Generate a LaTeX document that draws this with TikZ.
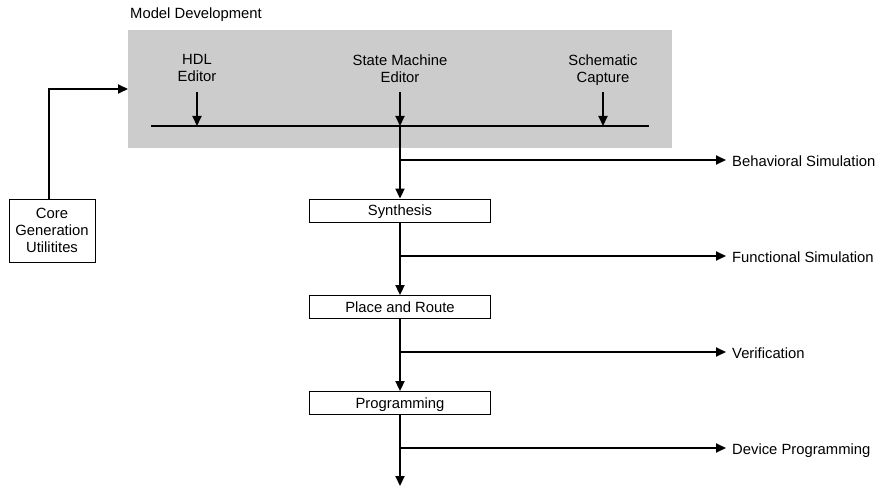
\documentclass[tikz,border=0pt]{standalone}
\usepackage{fontspec}
\setmainfont{Liberation Sans}
\usetikzlibrary{arrows.meta}
\definecolor{panelgray}{HTML}{CCCCCC}
\begin{document}
\begin{tikzpicture}[x=1pt,y=-1pt,
  every node/.style={font=\fontsize{14.8}{17}\selectfont},
  flow/.style={line width=2pt},
  arr/.style={flow,-{Triangle[length=10pt,width=9pt]}},
  stagebox/.style={draw,line width=0.9pt,fill=white,minimum width=181pt,minimum height=23pt,
    inner sep=0pt,text height=10.6pt,text depth=0pt},
  toolbox/.style={draw,line width=0.9pt,fill=white,minimum width=86pt,minimum height=63pt,inner sep=0pt,align=center},
  tool/.style={align=center,inner sep=0pt,anchor=north},
  outlabel/.style={anchor=base west,inner sep=0pt}]
\useasboundingbox (0,0) rectangle (879,487);

% model development panel
\node[anchor=base west,inner sep=0pt] (mdtitle) at (130,19) {Model Development};
\node[fill=panelgray,minimum width=544pt,minimum height=118pt,inner sep=0pt,anchor=north west] (md) at (128,30) {};

% editors feeding the common bus
\node[tool] (hdl) at (197,54.6) {HDL\\Editor};
\node[tool] (sme) at (400,54.6) {State Machine\\Editor};
\node[tool] (sch) at (603,54.6) {Schematic\\Capture};
\coordinate (busL) at (151,126);
\coordinate (busR) at (649,126);
\draw[flow] (busL) -- (busR);
\coordinate (hdlIn) at (197,126);
\coordinate (smeIn) at (400,126);
\coordinate (schIn) at (603,126);
\draw[arr] (hdl.south |- 0,92) -- (hdlIn);
\draw[arr] (sme.south |- 0,92) -- (smeIn);
\draw[arr] (sch.south |- 0,92) -- (schIn);

% core generation utilities
\node[toolbox] (core) at (52,230.5) {Core\\Generation\\Utilitites};
\coordinate (coreUp) at (49,89);
\draw[arr] (core.north -| coreUp) |- (md.west |- coreUp);

% implementation flow
\node[stagebox] (syn) at (400,210.5) {Synthesis};
\node[stagebox] (par) at (400,307) {Place and Route};
\node[stagebox] (prg) at (400,403) {Programming};
\coordinate (flowEnd) at (400,486);

\draw[arr] (smeIn) -- (syn.north);
\draw[arr] (syn.south) -- (par.north);
\draw[arr] (par.south) -- (prg.north);
\draw[arr] (prg.south) -- (flowEnd);

% simulation and output taps
\node[outlabel] (beh) at (732,166) {Behavioral Simulation};
\node[outlabel] (fun) at (732,262) {Functional Simulation};
\node[outlabel] (ver) at (732,358) {Verification};
\node[outlabel] (dev) at (732,454) {Device Programming};

\coordinate (tapB) at (400,160);
\coordinate (tapF) at (400,256);
\coordinate (tapV) at (400,352);
\coordinate (tapD) at (400,448);
\draw[arr] (tapB) -- ([xshift=-6pt]beh.west |- tapB);
\draw[arr] (tapF) -- ([xshift=-6pt]fun.west |- tapF);
\draw[arr] (tapV) -- ([xshift=-6pt]ver.west |- tapV);
\draw[arr] (tapD) -- ([xshift=-6pt]dev.west |- tapD);
\end{tikzpicture}
\end{document}
